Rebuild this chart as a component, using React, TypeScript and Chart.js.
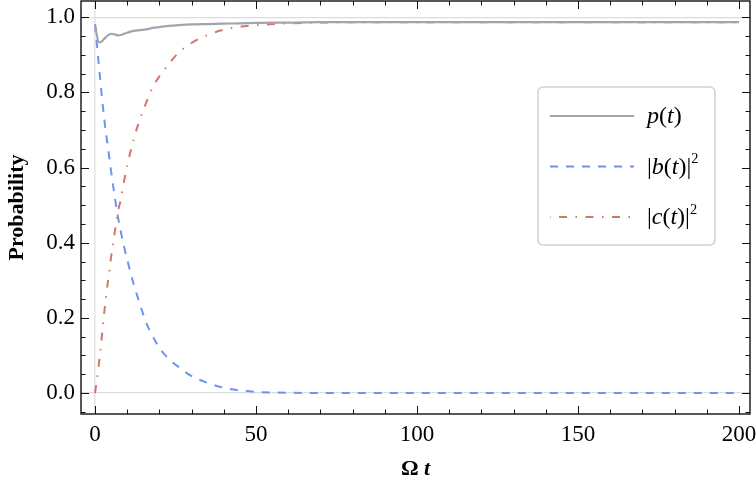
import React, { useEffect, useRef } from 'react';
import { Chart, registerables } from 'chart.js';

Chart.register(...registerables);

// ---- data ----
const timePoints = [0, 0.5, 1, 1.5, 2, 3, 4, 5, 6, 7, 8, 9, 10, 12, 14, 16, 18, 20, 23, 26, 30, 35, 40, 45, 50, 55, 60, 70, 80, 100, 120, 150, 200];
const pValues = [0.981, 0.956, 0.936, 0.933, 0.935, 0.944, 0.952, 0.956, 0.955, 0.952, 0.953, 0.956, 0.959, 0.964, 0.966, 0.968, 0.972, 0.974, 0.977, 0.979, 0.981, 0.982, 0.983, 0.984, 0.985, 0.986, 0.986, 0.987, 0.987, 0.987, 0.987, 0.987, 0.987];
const bValues = [0.982, 0.935, 0.89, 0.845, 0.8, 0.72, 0.655, 0.59, 0.53, 0.475, 0.43, 0.39, 0.355, 0.29, 0.235, 0.185, 0.15, 0.12, 0.09, 0.069, 0.045, 0.027, 0.014, 0.007, 0.003, 0.0015, 0.0007, 0.0002, 0, 0, 0, 0, 0];
const cValues = [0, 0.03, 0.062, 0.1, 0.14, 0.225, 0.296, 0.362, 0.42, 0.478, 0.515, 0.563, 0.605, 0.675, 0.73, 0.775, 0.815, 0.843, 0.877, 0.906, 0.932, 0.953, 0.967, 0.975, 0.979, 0.982, 0.984, 0.986, 0.987, 0.987, 0.987, 0.987, 0.987];

const xMajorTicks = [0, 50, 100, 150, 200];
const xMinorTicks = [10, 20, 30, 40, 60, 70, 80, 90, 110, 120, 130, 140, 160, 170, 180, 190];
const yMajorTicks = [0, 0.2, 0.4, 0.6, 0.8, 1.0];
const yMinorTicks = [-0.05, 0.05, 0.1, 0.15, 0.25, 0.3, 0.35, 0.45, 0.5, 0.55, 0.65, 0.7, 0.75, 0.85, 0.9, 0.95];
const yTickLabels = ['0.0', '0.2', '0.4', '0.6', '0.8', '1.0'];

const seriesNames = ['p', 'b', 'c'];
const colors = { p: '#9ea6b0', b: '#6e95ee', c: '#d3776b' };
const dashes: Record<string, number[]> = { p: [], b: [8, 8], c: [8, 8.5, 1.5, 8.5] };

const SERIF = '"Liberation Serif", "Times New Roman", serif';

const isMajorY = (v: number) => yMajorTicks.some((m) => Math.abs(m - v) < 1e-9);
const isMajorX = (v: number) => xMajorTicks.includes(v);

type Run = { text: string; italic?: boolean; sup?: boolean };

function drawRuns(ctx: CanvasRenderingContext2D, runs: Run[], x: number, baseline: number, size: number) {
  let cx = x;
  for (const r of runs) {
    const s = r.sup ? size * 0.6 : size;
    ctx.font = `${r.italic ? 'italic ' : ''}${s}px ${SERIF}`;
    const y = r.sup ? baseline - size * 0.42 : baseline;
    ctx.fillText(r.text, cx, y);
    cx += ctx.measureText(r.text).width;
  }
}

const legendLabels: Record<string, Run[]> = {
  p: [{ text: 'p', italic: true }, { text: '(' }, { text: 't', italic: true }, { text: ')' }],
  b: [{ text: '|' }, { text: 'b', italic: true }, { text: '(' }, { text: 't', italic: true }, { text: ')|' }, { text: '2', sup: true }],
  c: [{ text: '|' }, { text: 'c', italic: true }, { text: '(' }, { text: 't', italic: true }, { text: ')|' }, { text: '2', sup: true }],
};

const framePlugin = {
  id: 'frameTicks',
  afterDatasetsDraw(chart: any) {
    const { ctx, chartArea } = chart;
    const { left, right, top, bottom } = chartArea;
    const xs = chart.scales.x;
    const ys = chart.scales.y;
    ctx.save();
    ctx.strokeStyle = '#111';
    ctx.lineWidth = 1;
    ctx.setLineDash([]);
    ctx.beginPath();
    for (const t of xs.ticks) {
      const px = Math.round(xs.getPixelForValue(t.value)) + 0.5;
      const len = isMajorX(t.value) ? 8 : 4.5;
      ctx.moveTo(px, bottom); ctx.lineTo(px, bottom - len);
      ctx.moveTo(px, top); ctx.lineTo(px, top + len);
    }
    for (const t of ys.ticks) {
      const py = Math.round(ys.getPixelForValue(t.value)) + 0.5;
      const len = isMajorY(t.value) ? 8 : 4.5;
      ctx.moveTo(left, py); ctx.lineTo(left + len, py);
      ctx.moveTo(right, py); ctx.lineTo(right - len, py);
    }
    ctx.stroke();
    ctx.lineWidth = 1.4;
    ctx.strokeRect(left, top, right - left, bottom - top);

    // x-axis title: bold Ω, bold italic t
    const cx = (left + right) / 2;
    ctx.fillStyle = '#000';
    ctx.textBaseline = 'alphabetic';
    ctx.font = `bold 22px ${SERIF}`;
    const w1 = ctx.measureText('Ω ').width;
    ctx.font = `bold italic 22px ${SERIF}`;
    const w2 = ctx.measureText('t').width;
    const sx = cx - (w1 + w2) / 2;
    ctx.font = `bold 22px ${SERIF}`;
    ctx.fillText('Ω ', sx, 475);
    ctx.font = `bold italic 22px ${SERIF}`;
    ctx.fillText('t', sx + w1, 475);

    // legend
    const bx = 538, by = 87, bw = 177, bh = 158, r = 5;
    ctx.beginPath();
    ctx.moveTo(bx + r, by);
    ctx.arcTo(bx + bw, by, bx + bw, by + bh, r);
    ctx.arcTo(bx + bw, by + bh, bx, by + bh, r);
    ctx.arcTo(bx, by + bh, bx, by, r);
    ctx.arcTo(bx, by, bx + bw, by, r);
    ctx.closePath();
    ctx.fillStyle = '#fff';
    ctx.fill();
    ctx.strokeStyle = '#d2d2d2';
    ctx.lineWidth = 1.6;
    ctx.stroke();

    const rows = [116, 166.5, 217];
    seriesNames.forEach((name, i) => {
      const yy = rows[i];
      ctx.save();
      ctx.strokeStyle = (colors as any)[name];
      ctx.lineWidth = 2;
      ctx.setLineDash(dashes[name]);
      if (name === 'c') ctx.lineDashOffset = 17.5;
      ctx.beginPath();
      ctx.moveTo(550, yy);
      ctx.lineTo(634, yy);
      ctx.stroke();
      ctx.restore();
      ctx.fillStyle = '#000';
      drawRuns(ctx, legendLabels[name], 647, yy + 7, 24);
    });
    ctx.restore();
  },
};

export default function App() {
  const ref = useRef<HTMLCanvasElement | null>(null);
  useEffect(() => {
    if (!ref.current) return;
    const mk = (vals: number[]) => timePoints.map((t, i) => ({ x: t, y: vals[i] }));
    const chart = new Chart(ref.current, {
      type: 'line',
      data: {
        datasets: [
          { label: 'p(t)', data: mk(pValues), borderColor: colors.p, borderWidth: 2.2, borderDash: dashes.p, pointRadius: 0, cubicInterpolationMode: 'monotone', fill: false },
          { label: '|b(t)|^2', data: mk(bValues), borderColor: colors.b, borderWidth: 2, borderDash: dashes.b, pointRadius: 0, cubicInterpolationMode: 'monotone', fill: false },
          { label: '|c(t)|^2', data: mk(cValues), borderColor: colors.c, borderWidth: 2, borderDash: dashes.c, pointRadius: 0, cubicInterpolationMode: 'monotone', fill: false },
        ],
      },
      options: {
        animation: false,
        responsive: false,
        devicePixelRatio: 1,
        layout: { padding: { top: 1, right: 6, left: 0, bottom: 0 } },
        plugins: { legend: { display: false }, tooltip: { enabled: false } },
        scales: {
          x: {
            type: 'linear',
            min: -4.35,
            max: 203.4,
            afterBuildTicks: (s: any) => {
              s.ticks = [...xMajorTicks, ...xMinorTicks].sort((a, b) => a - b).map((v) => ({ value: v }));
            },
            afterFit: (s: any) => {
              s.height = 83;
              s.paddingLeft = 0; s.paddingRight = 0; s.paddingTop = 0; s.paddingBottom = 0;
            },
            ticks: {
              autoSkip: false,
              maxRotation: 0,
              padding: 7,
              color: '#000',
              font: { family: SERIF, size: 23 },
              callback: (v: any) => (isMajorX(Number(v)) ? String(v) : ''),
            },
            grid: {
              drawTicks: false,
              lineWidth: 1.5,
              color: (c: any) => (c.tick && c.tick.value === 0 ? '#e3e3e3' : 'rgba(0,0,0,0)'),
            },
            border: { display: false },
          },
          y: {
            type: 'linear',
            min: -0.0558,
            max: 1.0434,
            afterBuildTicks: (s: any) => {
              s.ticks = [...yMajorTicks, ...yMinorTicks].sort((a, b) => a - b).map((v) => ({ value: v }));
            },
            afterFit: (s: any) => {
              s.width = 81;
              s.paddingLeft = 0; s.paddingRight = 0; s.paddingTop = 0; s.paddingBottom = 0;
            },
            ticks: {
              autoSkip: false,
              padding: 6,
              color: '#000',
              font: { family: SERIF, size: 23 },
              callback: (v: any) => {
                const idx = yMajorTicks.findIndex((m) => Math.abs(m - Number(v)) < 1e-9);
                return idx >= 0 ? yTickLabels[idx] : '';
              },
            },
            title: {
              display: true,
              text: 'Probability',
              color: '#000',
              font: { family: SERIF, size: 22, weight: 'bold' },
              padding: { top: 4, bottom: 0 },
            },
            grid: {
              drawTicks: false,
              lineWidth: 1.2,
              color: (c: any) =>
                c.tick && (Math.abs(c.tick.value) < 1e-9 || Math.abs(c.tick.value - 1) < 1e-9) ? '#dcdcdc' : 'rgba(0,0,0,0)',
            },
            border: { display: false },
          },
        },
      },
      plugins: [framePlugin],
    } as any);
    return () => chart.destroy();
  }, []);

  return (
    <div style={{ position: 'absolute', left: 0, top: 0, width: 756, height: 497, background: '#fff' }}>
      <canvas ref={ref} width={756} height={497} style={{ display: 'block', width: 756, height: 497 }} />
    </div>
  );
}
